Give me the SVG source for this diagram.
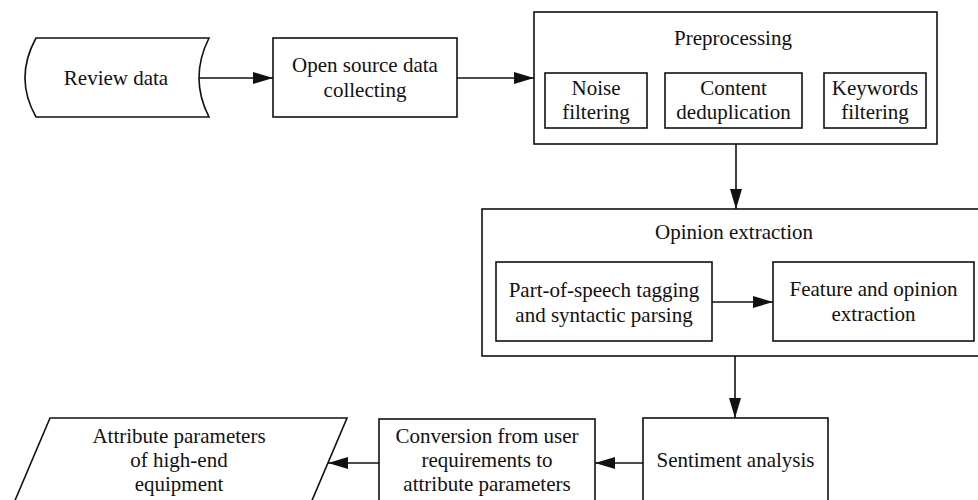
<svg xmlns="http://www.w3.org/2000/svg" width="978" height="500" viewBox="0 0 978 500">
  <defs>
    <marker id="arrow" markerUnits="userSpaceOnUse" markerWidth="20" markerHeight="12" refX="20" refY="6" orient="auto">
      <path d="M0,0 L20,6 L0,12 Z" fill="#111"/>
    </marker>
    <style>
      .box { fill: #fff; stroke: #111; stroke-width: 1.6; }
      .lbl { font-size: 21px; fill: #111; text-anchor: middle; }
      .conn line { stroke: #111; stroke-width: 1.6; marker-end: url(#arrow); }
    </style>
  </defs>
  <rect width="978" height="500" fill="#fff"/>

  <g font-family="Liberation Serif, Times New Roman, serif">
  <!-- stored data source -->
  <g id="review-data">
    <path class="box" d="M36,38 L209,38 Q189,78 209,117 L36,117 Q14,78 36,38 Z"/>
    <text class="lbl" x="116" y="85">Review data</text>
  </g>

  <g id="open-source">
    <rect class="box" x="273" y="38" width="184" height="79"/>
    <text class="lbl" x="365" y="72">Open source data</text>
    <text class="lbl" x="365" y="97">collecting</text>
  </g>

  <g id="preprocessing">
    <rect class="box" x="534" y="12" width="403" height="132"/>
    <text class="lbl" x="733" y="45">Preprocessing</text>
  </g>
  <g id="noise-filtering">
    <rect class="box" x="545" y="73" width="102" height="55"/>
    <text class="lbl" x="596" y="95">Noise</text>
    <text class="lbl" x="596" y="119">filtering</text>
  </g>
  <g id="content-dedup">
    <rect class="box" x="665" y="73" width="137" height="55"/>
    <text class="lbl" x="733.5" y="95">Content</text>
    <text class="lbl" x="733.5" y="119">deduplication</text>
  </g>
  <g id="keywords-filtering">
    <rect class="box" x="824" y="73" width="102" height="55"/>
    <text class="lbl" x="875" y="95">Keywords</text>
    <text class="lbl" x="875" y="119">filtering</text>
  </g>

  <g id="opinion-extraction">
    <rect class="box" x="482" y="209" width="510" height="147"/>
    <text class="lbl" x="734" y="239">Opinion extraction</text>
  </g>
  <g id="pos-tagging">
    <rect class="box" x="496" y="262" width="216" height="79"/>
    <text class="lbl" x="604" y="297">Part-of-speech tagging</text>
    <text class="lbl" x="604" y="322">and syntactic parsing</text>
  </g>
  <g id="feature-opinion">
    <rect class="box" x="773" y="262" width="201" height="79"/>
    <text class="lbl" x="873.5" y="296">Feature and opinion</text>
    <text class="lbl" x="873.5" y="321">extraction</text>
  </g>

  <g id="sentiment">
    <rect class="box" x="643" y="418" width="185" height="100"/>
    <text class="lbl" x="735.5" y="467">Sentiment analysis</text>
  </g>

  <g id="conversion">
    <rect class="box" x="379" y="419" width="216" height="100"/>
    <text class="lbl" x="487" y="443">Conversion from user</text>
    <text class="lbl" x="487" y="467">requirements to</text>
    <text class="lbl" x="487" y="491">attribute parameters</text>
  </g>

  <!-- output data (parallelogram) -->
  <g id="attribute-params">
    <path class="box" d="M50,418 L347,418 L302,524 L5,524 Z"/>
    <text class="lbl" x="179" y="443">Attribute parameters</text>
    <text class="lbl" x="179" y="467">of high-end</text>
    <text class="lbl" x="179" y="491">equipment</text>
  </g>
  </g>

  <g id="connectors" class="conn">
    <line x1="199" y1="78" x2="273" y2="78"/>
    <line x1="457" y1="78" x2="534" y2="78"/>
    <line x1="736" y1="144" x2="736" y2="209"/>
    <line x1="712" y1="302" x2="773" y2="302"/>
    <line x1="735" y1="356" x2="735" y2="418"/>
    <line x1="643" y1="463" x2="595" y2="463"/>
    <line x1="379" y1="463" x2="328" y2="463"/>
  </g>
</svg>
